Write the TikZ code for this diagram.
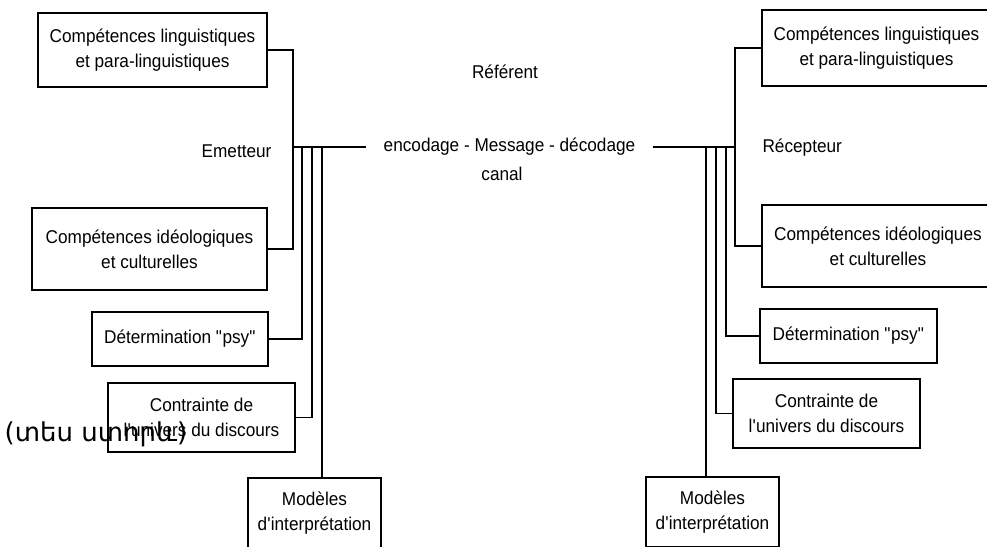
\documentclass[tikz,border=0pt]{standalone}
\usepackage{fontspec}
\setmainfont{Liberation Sans}[FakeStretch=0.93]
\newfontfamily\armfont{DejaVu Sans}
\begin{document}
\begin{tikzpicture}[x=1pt,y=-1pt,line width=1.1pt,
  txt/.style={font=\fontsize{18.5}{25}\selectfont},
  box/.style={txt,draw,align=center,inner sep=0pt},
  lbl/.style={txt,inner sep=0pt,anchor=base}]
\useasboundingbox (0,0) rectangle (987,546);
\clip (0,0) rectangle (987,546);
% left boxes
\node[box,minimum width=229pt,minimum height=74pt] (L1) at (152.5,50) {Compétences linguistiques\\et para-linguistiques};
\node[box,minimum width=235pt,minimum height=82pt] (L2) at (149.5,249) {Compétences idéologiques\\et culturelles};
\node[box,minimum width=176pt,minimum height=54pt] (L3) at (180,339) {Détermination \textquotedbl psy\textquotedbl};
\node[box,minimum width=187pt,minimum height=69pt] (L4) at (201.5,417.5) {Contrainte de\\l\textquotesingle univers du discours};
\node[box,minimum width=133pt,minimum height=70pt] (L5) at (314.5,513) {Modèles\\d\textquotesingle interprétation};
% right boxes
\node[box,minimum width=229pt,minimum height=76pt] (R1) at (876.5,48) {Compétences linguistiques\\et para-linguistiques};
\node[box,minimum width=232pt,minimum height=82pt] (R2) at (878,246) {Compétences idéologiques\\et culturelles};
\node[box,minimum width=177pt,minimum height=54pt] (R3) at (848.5,336) {Détermination \textquotedbl psy\textquotedbl};
\node[box,minimum width=187pt,minimum height=69pt] (R4) at (826.5,413.5) {Contrainte de\\l\textquotesingle univers du discours};
\node[box,minimum width=133pt,minimum height=70pt] (R5) at (712.5,512) {Modèles\\d\textquotesingle interprétation};
% labels
\node[lbl,anchor=base east] (em) at (272,157) {Emetteur};
\node[lbl,anchor=base west] (rec) at (762,152) {Récepteur};
\node[lbl] (ref) at (505,78) {Référent};
\node[txt,inner ysep=0pt,inner xsep=17pt] (msg) at (509.5,147) {encodage - Message - décodage};
\node[lbl] (can) at (502,180) {canal};
\node[inner sep=0pt,anchor=base,font=\armfont\fontsize{26}{30}\selectfont] (arm) at (96,441) {(տես ստորև)};
% bus coordinates
\coordinate (eL) at (293,147);
\coordinate (cL2) at (302,147);
\coordinate (cL3) at (312,147);
\coordinate (cL4) at (322,147);
\coordinate (eR) at (735,147);
\coordinate (cR2) at (726,147);
\coordinate (cR3) at (716,147);
\coordinate (cR4) at (706,147);
% left connectors
\draw (L1.east) -| (eL) |- (L2.east);
\draw (eL) -- (msg.west);
\draw (L3.east) -| (cL2);
\draw (L4.east) -| (cL3);
\draw (cL4) -- (cL4 |- L5.north);
% right connectors
\draw (R1.west) -| (eR) |- (R2.west);
\draw (msg.east) -- (eR);
\draw (R3.west) -| (cR2);
\draw (R4.west) -| (cR3);
\draw (cR4) -- (cR4 |- R5.north);
\end{tikzpicture}
\end{document}
